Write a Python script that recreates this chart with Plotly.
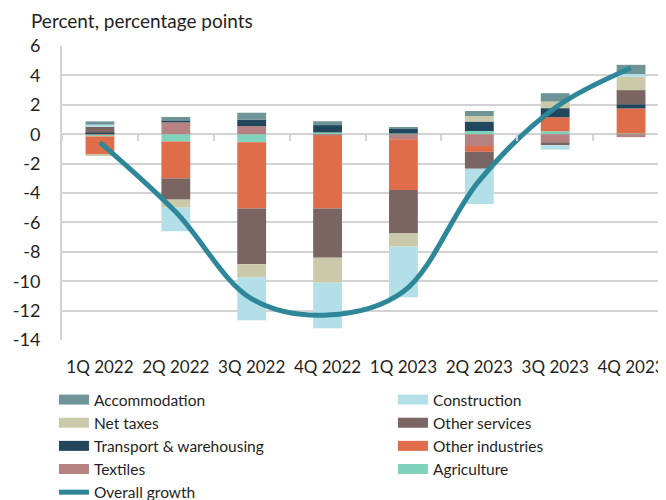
import plotly.graph_objects as go

# quarters on the x axis
quarters = ["1Q 2022", "2Q 2022", "3Q 2022", "4Q 2022",
            "1Q 2023", "2Q 2023", "3Q 2023", "4Q 2023"]

# contributions, percentage points (stacking order: innermost first)
agriculture = [-0.15, -0.5, -0.55, 0.12, 0.05, 0.22, 0.2, 0.05]
textiles = [0.05, 0.8, 0.55, -0.1, -0.35, -0.8, -0.55, -0.2]
other_industries = [-1.2, -2.5, -4.5, -4.95, -3.45, -0.4, 0.95, 1.7]
transport = [0.05, 0.14, 0.43, 0.5, 0.32, 0.64, 0.62, 0.29]
other_services = [0.45, -1.45, -3.8, -3.35, -2.95, -1.15, -0.2, 0.96]
net_taxes = [-0.07, -0.55, -0.9, -1.7, -0.9, 0.38, 0.45, 0.9]
construction = [0.1, -1.6, -2.9, -3.1, -3.45, -2.4, -0.3, 0.19]
accommodation = [0.22, 0.23, 0.48, 0.26, 0.11, 0.34, 0.57, 0.63]

# overall growth, percent
overall = [-0.55, -5.3, -11.2, -12.3, -10.7, -3.15, 1.8, 4.5]

y_ticks = [6, 4, 2, 0, -2, -4, -6, -8, -10, -12, -14]
y_labels = [str(v) for v in y_ticks]

# (name, values, colour, legend column, rank in column)
series = [
    ("Agriculture", agriculture, "#7ED3BA", "legend2", 4),
    ("Textiles", textiles, "#B58281", "legend", 4),
    ("Other industries", other_industries, "#E06D4A", "legend2", 3),
    ("Transport & warehousing", transport, "#22465C", "legend", 3),
    ("Other services", other_services, "#7A6562", "legend2", 2),
    ("Net taxes", net_taxes, "#CACAAA", "legend", 2),
    ("Construction", construction, "#B3E0E8", "legend2", 1),
    ("Accommodation", accommodation, "#6E9497", "legend", 1),
]

grid = "#D3D3D3"
font = "Lato"
ink = "#1F1F1F"

fig = go.Figure()

for name, vals, col, leg, rank in series:
    fig.add_trace(go.Bar(x=quarters, y=vals, name=name, marker_color=col,
                         marker_line_width=0, showlegend=False))

# legend-only entries, drawn as wide blocks like the original
for name, vals, col, leg, rank in series:
    fig.add_trace(go.Scatter(x=[None], y=[None], mode="lines", name=name,
                             line=dict(color=col, width=10), legend=leg,
                             legendrank=rank))

fig.add_trace(go.Scatter(x=quarters, y=overall, name="Overall growth",
                         mode="lines", line=dict(color="#2E8799", width=5,
                                                 shape="spline", smoothing=1),
                         legend="legend", legendrank=5))

# invisible trace carrying the category tick marks at the zero line
fig.add_trace(go.Scatter(x=quarters, y=overall, xaxis="x2", mode="markers",
                         marker=dict(opacity=0), showlegend=False,
                         hoverinfo="skip"))

# horizontal legends, wide entries so each wraps to one item per row
leg_style = dict(orientation="h", xref="container", yref="container",
                 y=0.25, xanchor="left", yanchor="top", tracegroupgap=0,
                 itemwidth=30, bgcolor="rgba(0,0,0,0)", entrywidth=300,
                 font=dict(size=15.5, family=font, color=ink))

# page body adds an 8px offset, margins below allow for it
fig.update_layout(
    width=666, height=500,
    barmode="relative", bargap=0.62,
    plot_bgcolor="white", paper_bgcolor="white",
    font=dict(family=font, size=17, color=ink),
    margin=dict(l=52, r=5, t=38, b=168),
    title=dict(text="Percent, percentage points", xref="container", x=0.0345,
               y=0.973, yanchor="middle", xanchor="left",
               font=dict(size=19, family=font, color=ink)),
    xaxis=dict(type="category", showgrid=False, ticks="", showline=False,
               zeroline=False, ticklabelstandoff=15,
               tickfont=dict(size=17)),
    xaxis2=dict(type="category", overlaying="x", anchor="free", position=0.7,
                matches="x", showgrid=False, showticklabels=False,
                ticks="outside", ticklen=6, tickwidth=2, tickcolor=grid,
                tickson="boundaries", showline=False, zeroline=False),
    yaxis=dict(range=[-14, 6], tickvals=y_ticks, ticktext=y_labels,
               showgrid=True, gridcolor=grid, gridwidth=2,
               zeroline=True, zerolinecolor=grid, zerolinewidth=2,
               showline=True, linecolor=grid, linewidth=2,
               ticks="", ticklabelstandoff=16, tickfont=dict(size=18)),
    legend=dict(x=0.069, **leg_style),
    legend2=dict(x=0.578, **leg_style),
)

fig.write_html("out.html")
